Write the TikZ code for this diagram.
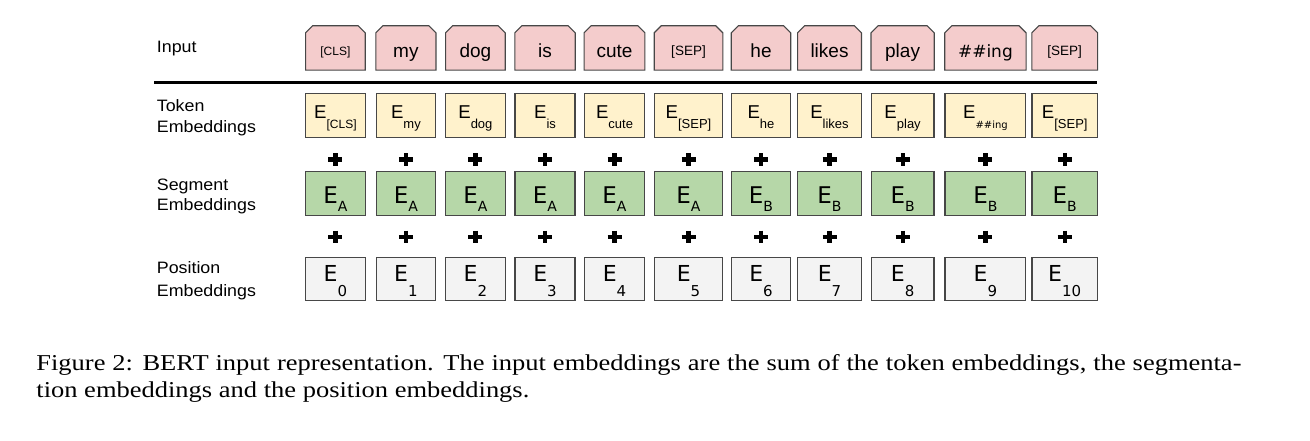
\documentclass[tikz,border=0pt]{standalone}
\usepackage{fontspec}
\setmainfont{Liberation Sans}
\newfontfamily\capfont{Liberation Serif}
\newfontfamily\tah{DejaVu Sans}
\usetikzlibrary{calc}
\definecolor{inpink}{HTML}{F4CCCC}
\definecolor{tokyel}{HTML}{FFF2CC}
\definecolor{seggrn}{HTML}{B6D7A8}
\definecolor{posgry}{HTML}{F3F3F3}
\definecolor{edgegray}{HTML}{474747}
\newcommand\fs[1]{\fontsize{#1}{#1}\selectfont}
\newcommand\lbl[1]{\scalebox{1.08}[1]{\fs{16.5}#1}}
\tikzset{
  embbox/.style={draw=edgegray, line width=1.1pt, inner sep=0pt, minimum height=43.5pt},
  inbox/.style={draw=edgegray, line width=1.1pt, fill=inpink, line join=miter},
  txt/.style={anchor=base, inner sep=0pt, text=black},
  rowlabel/.style={anchor=base west, inner sep=0pt},
  plussign/.style={line width=4.2pt, black},
}
\begin{document}
\begin{tikzpicture}[x=1pt,y=-1pt]
\useasboundingbox (0,0) rectangle (1310,441);
\fill[white] (0,0) rectangle (1310,441);

% row labels
\node[rowlabel] (lin) at (156.7,52.3) {\lbl{Input}};
\node[rowlabel] (ltok1) at (156.7,111.7) {\lbl{Token}};
\node[rowlabel] (ltok2) at (156.7,132.7) {\lbl{Embeddings}};
\node[rowlabel] (lseg1) at (156.7,190) {\lbl{Segment}};
\node[rowlabel] (lseg2) at (156.7,211) {\lbl{Embeddings}};
\node[rowlabel] (lpos1) at (156.7,273.3) {\lbl{Position}};
\node[rowlabel] (lpos2) at (156.7,296) {\lbl{Embeddings}};

% separating rule
\coordinate (ruleL) at (154,82.7);
\coordinate (ruleR) at (1097,82.7);
\draw[line width=2.7pt] (ruleL) -- (ruleR);

\foreach \i/\c/\w/\inp/\ib/\tsub/\sg in {
 0/335.4/59.3/{\fs{12}[CLS]}/55.5/{\fs{12}[CLS]}/A,
 1/405.9/59.7/{\fs{19}my}/57.7/{\fs{13}my}/A,
 2/475.4/59.3/{\fs{19}dog}/57.7/{\fs{13}dog}/A,
 3/545.0/60.0/{\fs{19}is}/57.7/{\fs{13}is}/A,
 4/614.5/60.3/{\fs{19}cute}/57.7/{\fs{13}cute}/A,
 5/688.5/68.2/{\fs{13.5}[SEP]}/55.5/{\fs{13}[SEP]}/A,
 6/761.0/59.1/{\fs{19}he}/57.7/{\fs{13}he}/B,
 7/829.5/63.5/{\fs{19}likes}/57.7/{\fs{13}likes}/B,
 8/902.6/62.8/{\fs{19}play}/57.7/{\fs{13}play}/B,
 9/985.4/80.9/{\tah\fs{17}\#\#ing}/57.7/{\tah\fs{10}\#\#ing}/B,
 10/1064.7/65.4/{\fs{13.5}[SEP]}/55.5/{\fs{13}[SEP]}/B}
{
  % input token (chamfered top corners)
  \node[inner sep=0pt, minimum width=\w pt, minimum height=44pt] (in\i) at (\c,48) {};
  \draw[inbox] (in\i.south west) -- ([yshift=-7pt]in\i.north west) -- ([xshift=7pt]in\i.north west)
     -- ([xshift=-7pt]in\i.north east) -- ([yshift=-7pt]in\i.north east) -- (in\i.south east) -- cycle;
  \node[txt] (int\i) at (\c,\ib) {\inp};

  % token embedding
  \node[embbox, fill=tokyel, minimum width=\w pt] (tok\i) at (\c,115.6) {};
  \node[txt] (tokt\i) at (\c,118.3) {\fs{18.6}E\raisebox{-10.7pt}{\tsub}};

  % plus 1
  \draw[plussign] (\c-7,159.5) -- (\c+7,159.5) (\c,153.2) -- (\c,165.8);

  % segment embedding
  \node[embbox, fill=seggrn, minimum width=\w pt] (seg\i) at (\c,193.6) {};
  \node[txt] (segt\i) at (\c,203.3) {\tah\fs{23}E\raisebox{-8.4pt}{\fs{14}\sg}};

  % plus 2
  \draw[plussign] (\c-7,237) -- (\c+7,237) (\c,230.7) -- (\c,243.3);

  % position embedding
  \node[embbox, fill=posgry, minimum width=\w pt] (pos\i) at (\c,279) {};
  \node[txt] (post\i) at (\c,281.5) {\tah\fs{22}E\raisebox{-14.5pt}{\fs{15}\i}};
}

% caption
\node[anchor=base west, inner sep=0pt] (cap1) at (36.2,370.5)
  {\scalebox{1.167}[1]{\capfont\fs{22.7}\makebox[1032.6pt][s]{Figure 2: BERT input representation. The input embeddings are the sum of the token embeddings, the segmenta-}}};
\node[anchor=base west, inner sep=0pt] (cap2) at (36.2,397)
  {\scalebox{1.167}[1]{\capfont\fs{22.7}tion embeddings and the position embeddings.}};
\end{tikzpicture}
\end{document}
